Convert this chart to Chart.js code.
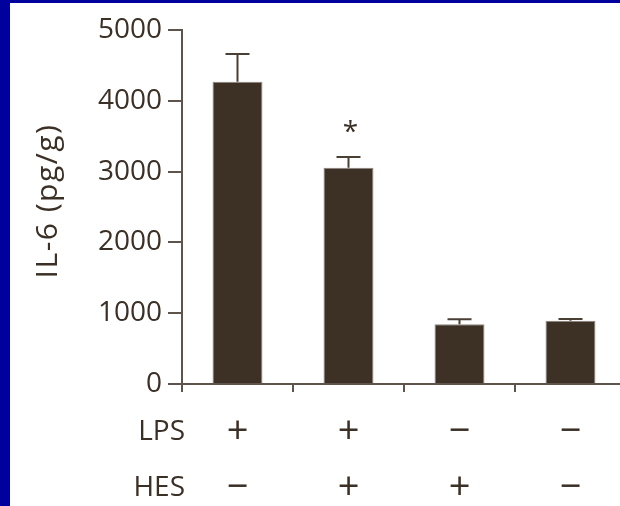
<!DOCTYPE html>
<html>
<head>
<meta charset="utf-8">
<script src="https://cdn.jsdelivr.net/npm/chart.js@4/dist/chart.umd.min.js"></script>
<style>
  html, body { margin: 0; padding: 0; background: #fff; overflow: hidden; }
  #wrap { position: relative; width: 620px; height: 506px; overflow: hidden; }
  #chart { position: absolute; left: 0; top: 0; }
  .edge { position: absolute; background: #00009c; }
</style>
</head>
<body>
<div id="wrap">
  <canvas id="chart" width="640" height="506"></canvas>
  <div class="edge" style="left:0;top:0;width:620px;height:3px"></div>
  <div class="edge" style="left:0;top:0;width:10px;height:506px"></div>
</div>
<script>
// treatment groups
const lps = ["+", "+", "\u2212", "\u2212"];
const hes = ["\u2212", "+", "+", "\u2212"];
const il6 = [4270, 3055, 843, 894];
const sem = [390, 150, 70, 25];
const significant = [false, true, false, false];
const yTicks = [0, 1000, 2000, 3000, 4000, 5000];
const rowTitles = ["LPS", "HES"];
const yTitle = "IL-6 (pg/g)";

const ink = "#3b3026";
const axisColor = "#5e544b";
const font = "'Open Sans', sans-serif";
const tickSize = 28;
const titleSize = 30;
const signSize = 38;
const rowSize = 28;
const rowHeight = 56;
const labelPad = 12;
const xTickLen = 8;

const labels = lps.map((v, i) => [v, hes[i]]);

// whiskers above each bar, plus significance marks
const errorBars = {
    id: "errorBars",
    afterDatasetsDraw(chart) {
        const { ctx, scales: { y } } = chart;
        const meta = chart.getDatasetMeta(0);
        ctx.save();
        ctx.strokeStyle = "#4a3f35";
        ctx.lineWidth = 2;
        meta.data.forEach((bar, i) => {
            const top = y.getPixelForValue(il6[i] + sem[i]);
            const base = y.getPixelForValue(il6[i]);
            ctx.beginPath();
            ctx.moveTo(bar.x, base);
            ctx.lineTo(bar.x, top);
            ctx.moveTo(bar.x - 12, top);
            ctx.lineTo(bar.x + 12, top);
            ctx.stroke();
            if (significant[i]) {
                ctx.fillStyle = ink;
                ctx.font = "28px " + font;
                ctx.textAlign = "center";
                ctx.textBaseline = "middle";
                ctx.fillText("*", bar.x + 2, top - 24);
            }
        });
        ctx.restore();
    }
};

// LPS / HES row names and the rotated y title (spaced out a little)
const sideText = {
    id: "sideText",
    afterDraw(chart) {
        const { ctx, chartArea, scales: { x } } = chart;
        ctx.save();
        ctx.fillStyle = ink;
        ctx.font = rowSize + "px " + font;
        ctx.textAlign = "right";
        ctx.textBaseline = "middle";
        rowTitles.forEach((t, i) => {
            const yy = x.top + xTickLen + labelPad + rowHeight * (i + 0.5);
            ctx.fillText(t, x.left + 3, yy);
        });

        ctx.font = titleSize + "px " + font;
        ctx.letterSpacing = "1.5px";
        ctx.textAlign = "center";
        ctx.translate(48, (chartArea.top + chartArea.bottom) / 2 - 6);
        ctx.rotate(-Math.PI / 2);
        ctx.fillText(yTitle, 0, 0);
        ctx.restore();
    }
};

new Chart(document.getElementById("chart"), {
    type: "bar",
    data: {
        labels: labels,
        datasets: [
            {
                data: il6,
                backgroundColor: "#3d3125",
                borderColor: "#8d847b",
                borderWidth: 1,
                barPercentage: 0.45,
                categoryPercentage: 1,
            },
        ],
    },
    options: {
        responsive: false,
        animation: false,
        layout: { padding: { left: 0, right: 14, top: 30, bottom: 0 } },
        plugins: {
            legend: { display: false },
            tooltip: { enabled: false },
        },
        scales: {
            x: {
                grid: {
                    offset: true,
                    drawOnChartArea: false,
                    tickLength: xTickLen,
                    color: axisColor,
                    lineWidth: 2,
                },
                border: { color: axisColor, width: 2 },
                ticks: {
                    color: ink,
                    padding: labelPad,
                    maxRotation: 0,
                    font: { family: font, size: signSize, lineHeight: rowHeight / signSize },
                },
                afterFit(scale) { scale.height = 122; },
            },
            y: {
                min: 0,
                max: 5000,
                afterBuildTicks(scale) { scale.ticks = yTicks.map(v => ({ value: v })); },
                grid: {
                    drawOnChartArea: false,
                    tickLength: 14,
                    color: axisColor,
                    lineWidth: 2,
                },
                border: { color: axisColor, width: 2 },
                ticks: {
                    color: ink,
                    padding: 6,
                    font: { family: font, size: tickSize },
                    callback: v => String(v),
                },
                afterFit(scale) { scale.width = 182; },
            },
        },
    },
    plugins: [errorBars, sideText],
});
</script>
</body>
</html>
